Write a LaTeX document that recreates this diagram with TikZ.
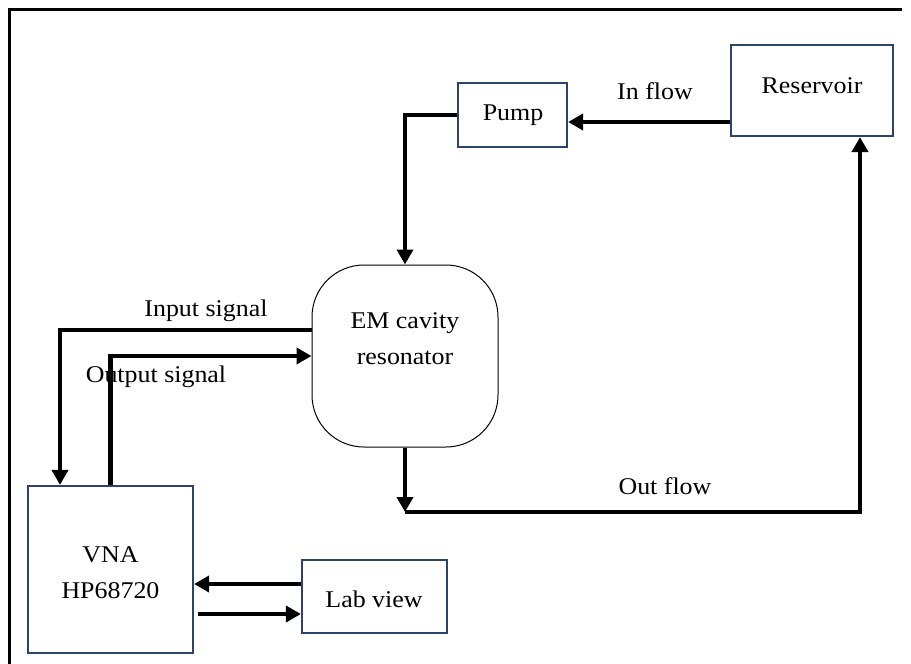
\documentclass[tikz,border=0pt]{standalone}
\usepackage{fontspec}
\setmainfont[FakeStretch=1.08]{Liberation Serif}
\usetikzlibrary{arrows.meta}
\definecolor{boxblue}{RGB}{47,66,110}
\begin{document}
\begin{tikzpicture}[x=1pt,y=-1pt,
  every node/.style={font=\fontsize{24}{36}\selectfont},
  blk/.style={draw=boxblue,line width=2.2pt,rectangle,inner sep=0pt},
  flow/.style={line width=4.8pt,-{Triangle[length=15pt,width=16pt]}},
  lbl/.style={inner sep=0pt}]
\useasboundingbox (0,0) rectangle (911,664);
% frame
\draw[line width=3pt] (9,664) -- (9,9) -- (902,9);
% blocks
\node[blk,minimum width=109pt,minimum height=64pt] (pump) at (512.5,115) {};
\node[lbl] at (513,115) {Pump};
\node[blk,minimum width=162pt,minimum height=91pt] (res) at (812,90.5) {};
\node[lbl] at (812,86) {Reservoir};
\node[draw=black,line width=1pt,rectangle,rounded corners=52pt,inner sep=0pt,
      minimum width=186pt,minimum height=182pt] (cav) at (405,356) {};
\node[lbl,align=center] at (405,339) {EM cavity\\resonator};
\node[blk,minimum width=165pt,minimum height=167pt] (vna) at (110.5,569.5) {};
\node[lbl,align=center] at (110.5,573) {VNA\\HP68720};
\node[blk,minimum width=145pt,minimum height=73pt] (lab) at (374.5,596.5) {};
\node[lbl] at (374,599) {Lab view};
% labels
\node[lbl] at (655,91) {In flow};
\node[lbl] at (206,311) {Input signal};
\node[lbl] at (156,377) {Output signal};
\node[lbl] at (665,486) {Out flow};
% connectors
\coordinate (ofc) at (405,512);
\draw[flow] (res.west |- 0,122) -- (pump.east |- 0,122);
\draw[flow] (pump.west) -| (cav.north);
\draw[flow] (cav.west |- 0,330) -| (vna.north -| 60,0);
\draw[flow] (vna.north) |- (cav.west);
\draw[flow] (cav.south) -- (ofc);
\draw[flow] (ofc) -| (res.south -| 860,0);
\draw[flow] (lab.west |- 0,584) -- (vna.east |- 0,584);
\draw[flow] ([xshift=4pt]vna.east |- 0,614) -- (lab.west |- 0,614);
\end{tikzpicture}
\end{document}
